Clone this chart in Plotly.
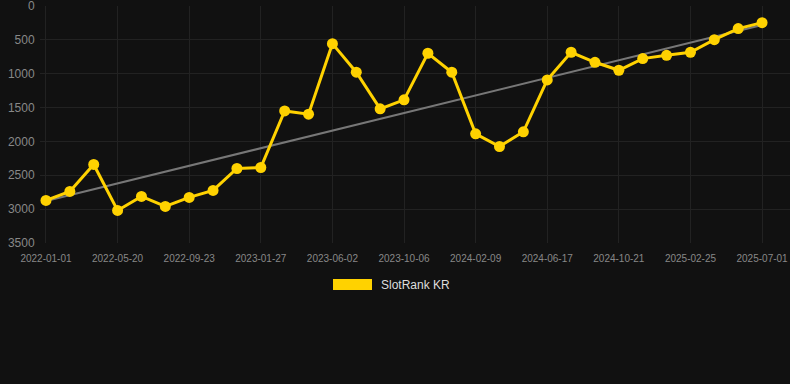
import numpy as np
import plotly.graph_objects as go

dates = [
    "2022-01-01", "2022-02-16", "2022-04-04", "2022-05-20", "2022-07-01", "2022-08-12",
    "2022-09-23", "2022-11-04", "2022-12-16", "2023-01-27", "2023-03-10", "2023-04-21",
    "2023-06-02", "2023-07-14", "2023-08-25", "2023-10-06", "2023-11-17", "2023-12-29",
    "2024-02-09", "2024-03-23", "2024-05-05", "2024-06-17", "2024-07-29", "2024-09-09",
    "2024-10-21", "2024-12-02", "2025-01-13", "2025-02-25", "2025-04-08", "2025-05-20",
    "2025-07-01",
]
rank = [
    2872, 2739, 2340, 3019, 2812, 2960, 2827, 2724, 2400, 2385, 1549, 1598,
    556, 978, 1519, 1386, 698, 978, 1888, 2075, 1858, 1091, 683, 831,
    949, 777, 728, 683, 497, 334, 246,
]
tick_labels = [
    "2022-01-01", "2022-05-20", "2022-09-23", "2023-01-27", "2023-06-02", "2023-10-06",
    "2024-02-09", "2024-06-17", "2024-10-21", "2025-02-25", "2025-07-01",
]
y_ticks = [0, 500, 1000, 1500, 2000, 2500, 3000, 3500]
series_name = "SlotRank KR"

idx = np.arange(len(rank))
slope, intercept = np.polyfit(idx, rank, 1)
trend = slope * idx + intercept

gold = "#FFD200"
fig = go.Figure()
fig.add_trace(go.Scatter(
    x=dates, y=trend, mode="lines",
    line=dict(color="#777777", width=2), hoverinfo="skip", showlegend=False,
))
fig.add_trace(go.Scatter(
    x=dates, y=rank, mode="lines+markers", name=series_name,
    line=dict(color=gold, width=3),
    marker=dict(color=gold, size=11),
    showlegend=False,
))

fig.update_layout(
    width=790, height=384,
    paper_bgcolor="#111111", plot_bgcolor="#111111",
    margin=dict(l=40, r=0, t=6, b=141),
    showlegend=False,
    xaxis=dict(
        type="category",
        range=[-0.25, 31.17],
        tickmode="array", tickvals=tick_labels, ticktext=tick_labels,
        showgrid=True, gridcolor="#222222", gridwidth=1,
        zeroline=False, showline=False,
        tickfont=dict(family="Liberation Sans, Arial", size=10, color="#888888"),
        ticks="outside", ticklen=6, tickcolor="rgba(0,0,0,0)",
    ),
    yaxis=dict(
        range=[3500.01, -0.01],
        tickmode="array", tickvals=y_ticks,
        showgrid=True, gridcolor="#222222", gridwidth=1,
        zeroline=False, showline=False,
        tickfont=dict(family="Liberation Sans, Arial", size=12, color="#888888"),
        ticks="outside", ticklen=2, tickcolor="rgba(0,0,0,0)",
        ticklabeloverflow="allow",
    ),
    shapes=[dict(
        type="rect", xref="paper", yref="paper",
        x0=(333 - 40) / 750, x1=(372 - 40) / 750,
        y0=(384 - 141 - 290) / 237, y1=(384 - 141 - 279) / 237,
        fillcolor=gold, line=dict(width=0),
    )],
    annotations=[dict(
        text=series_name, xref="paper", yref="paper",
        x=(379 - 40) / 750, y=(384 - 141 - 285) / 237,
        xanchor="left", yanchor="middle", showarrow=False,
        font=dict(family="Liberation Sans, Arial", size=12, color="#DDDDDD"),
    )],
)

fig.write_html(
    "out.html",
    config={"displayModeBar": False},
    post_script="document.body.style.margin='0';document.body.style.background='#111111';",
)
